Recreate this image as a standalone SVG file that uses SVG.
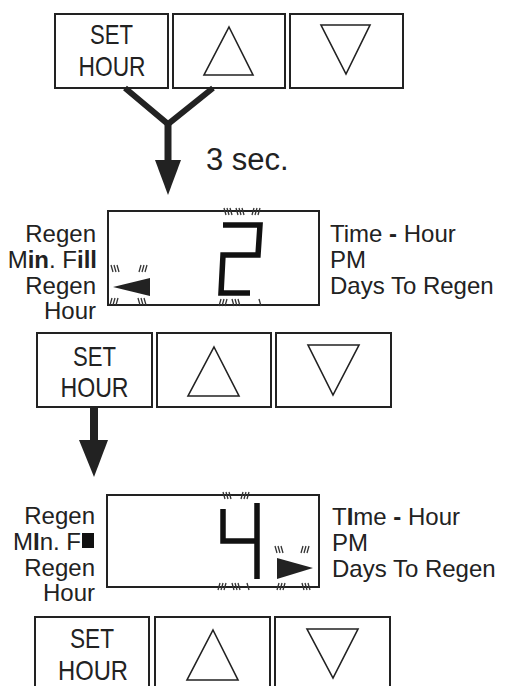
<svg xmlns="http://www.w3.org/2000/svg" width="506" height="686" viewBox="0 0 506 686">
<style>
.box{fill:#fff;stroke:#222;stroke-width:2}
.tri{fill:none;stroke:#222;stroke-width:1.6;stroke-linejoin:miter}
.btn{font-family:"Liberation Sans",Arial,sans-serif;font-size:28px;fill:#222;text-anchor:middle}
.lbl{font-family:"Liberation Sans",Arial,sans-serif;font-size:24px;fill:#222}
.end{text-anchor:end}
.b{font-weight:bold}
.seg{fill:none;stroke:#111;stroke-width:5.5;stroke-linejoin:miter;stroke-linecap:butt}
.hat{fill:none;stroke:#333;stroke-width:1.3}
.con{fill:none;stroke:#222;stroke-linecap:butt}
.head{fill:#222}
</style>
<defs>
<path id="bs" d="M0,0 l2,7 M3,0 l2,7 M6,0 l2,7"/>
<path id="fs" d="M2,0 l-2,7 M5,0 l-2,7 M8,0 l-2,7"/>
</defs>

<g id="buttons1">
<rect class="box" x="55" y="14" width="113" height="74"/>
<text class="btn" x="111.5" y="44" textLength="43" lengthAdjust="spacingAndGlyphs">SET</text>
<text class="btn" x="112" y="76" textLength="67" lengthAdjust="spacingAndGlyphs">HOUR</text>
<rect class="box" x="173" y="14" width="112" height="74"/>
<polygon class="tri" points="229,27 253,75 204,75"/>
<rect class="box" x="290" y="14" width="113" height="74"/>
<polygon class="tri" points="321,25 370,25 346,74"/>
</g>

<g id="display1">
<rect class="box" x="108" y="211" width="211" height="94"/>
<path class="seg" d="M223,225 L260,225 L258,255 L223,255 L221,293 L250,293"/>
<g class="hat">
<use href="#bs" x="224" y="208"/><use href="#bs" x="236" y="208"/><use href="#fs" x="252" y="208"/>
<use href="#fs" x="219" y="299"/><use href="#bs" x="232" y="299"/><path d="M259,299 l2,7"/>
<use href="#bs" x="111" y="265"/><use href="#fs" x="139" y="265"/>
<use href="#fs" x="110" y="298"/><use href="#bs" x="138" y="298"/>
</g>
<path class="head" d="M113,287 L150,278 L150,296 Z"/>
<text class="lbl end" x="96" y="242">Regen</text>
<text class="lbl end" x="97" y="268">M<tspan class="b">in</tspan>. F<tspan class="b">ill</tspan></text>
<text class="lbl end" x="96" y="294">Regen</text>
<text class="lbl end" x="96" y="319">Hour</text>
<text class="lbl" x="330" y="242">Time <tspan class="b">-</tspan> Hour</text>
<text class="lbl" x="330" y="268">PM</text>
<text class="lbl" x="330" y="294">Days To Regen</text>
</g>

<g id="buttons2">
<rect class="box" x="37" y="333" width="115" height="74"/>
<text class="btn" x="94.5" y="366" textLength="43" lengthAdjust="spacingAndGlyphs">SET</text>
<text class="btn" x="94.5" y="397" textLength="68" lengthAdjust="spacingAndGlyphs">HOUR</text>
<rect class="box" x="157" y="333" width="114" height="74"/>
<polygon class="tri" points="214,347 239,396 188,396"/>
<rect class="box" x="276" y="333" width="115" height="74"/>
<polygon class="tri" points="308,345 359,345 333,395"/>
</g>

<g id="display2">
<rect class="box" x="107" y="495" width="212" height="92"/>
<path class="seg" d="M223,509 L223,541 L256,541 M257,503 L257,579"/>
<g class="hat">
<use href="#bs" x="223" y="492"/><use href="#fs" x="241" y="492"/>
<use href="#bs" x="275" y="546"/><use href="#fs" x="301" y="546"/>
<use href="#fs" x="218" y="583"/><use href="#bs" x="232" y="583"/><path d="M247,583 l2,7"/>
<use href="#fs" x="277" y="583"/><use href="#bs" x="302" y="583"/>
</g>
<path class="head" d="M313,568 L277,558 L277,579 Z"/>
<text class="lbl end" x="95" y="524">Regen</text>
<text class="lbl end" x="81" y="550">M<tspan class="b">I</tspan>n. F</text>
<rect x="82" y="533" width="12" height="15" fill="#111"/>
<text class="lbl end" x="95" y="576">Regen</text>
<text class="lbl end" x="95" y="601">Hour</text>
<text class="lbl" x="332" y="525">T<tspan class="b">I</tspan>me <tspan class="b">-</tspan> Hour</text>
<text class="lbl" x="332" y="551">PM</text>
<text class="lbl" x="332" y="577">Days To Regen</text>
</g>

<g id="buttons3">
<rect class="box" x="35" y="617" width="114" height="80"/>
<text class="btn" x="92" y="648" textLength="44" lengthAdjust="spacingAndGlyphs">SET</text>
<text class="btn" x="93" y="680" textLength="70" lengthAdjust="spacingAndGlyphs">HOUR</text>
<rect class="box" x="155" y="617" width="115" height="80"/>
<polygon class="tri" points="213,630 238,680 187,680"/>
<rect class="box" x="275" y="617" width="115" height="80"/>
<polygon class="tri" points="307,629 358,629 333,678"/>
</g>

<g id="connectors">
<path class="con" stroke-width="6" d="M125,88 L168,124 L213,88"/>
<path class="con" stroke-width="7" d="M168,122 L168,162"/>
<polygon class="head" points="155,160 181,160 168,195"/>
<text class="lbl" x="206" y="170" style="font-size:31px">3 sec.</text>
<path class="con" stroke-width="8" d="M94,407 L94,442"/>
<polygon class="head" points="79,440 108,440 94,477"/>
</g>
</svg>
